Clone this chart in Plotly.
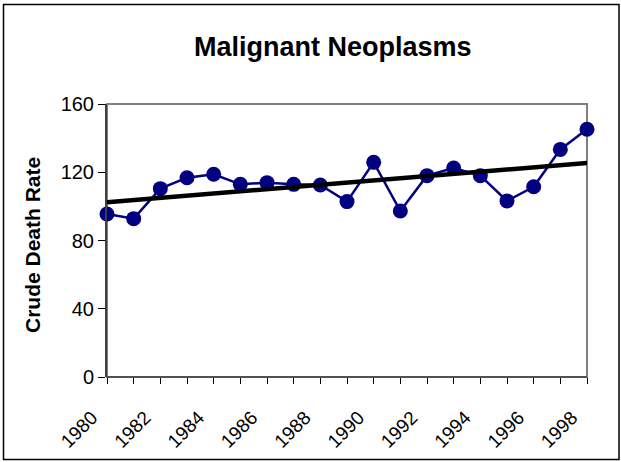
import numpy as np
import plotly.graph_objects as go

years = list(range(1980, 1999))
death_rate = [95.5, 92.8, 110.4, 116.8, 118.8, 112.9, 113.9, 112.9, 112.5, 102.8,
              125.8, 97.3, 118.0, 122.5, 118.0, 103.2, 111.5, 133.4, 145.2]
x_tick_labels = [str(y) if (y - 1980) % 2 == 0 else "" for y in years]
y_tick_vals = [0, 40, 80, 120, 160]

# linear trendline (least squares) from the data
coef = np.polyfit(years, death_rate, 1)
trend = np.polyval(coef, years)

FONT = "Arial, Liberation Sans, sans-serif"
W, H = 621, 462
L, R, T, B = 107, 587, 104, 377

fig = go.Figure()
fig.add_trace(go.Scatter(
    x=years, y=death_rate, mode="lines+markers",
    line=dict(color="#000080", width=2.5),
    marker=dict(color="#000080", size=15),
    cliponaxis=False, showlegend=False,
))
fig.add_trace(go.Scatter(
    x=years, y=trend, mode="lines",
    line=dict(color="black", width=4.5),
    cliponaxis=False, showlegend=False,
))

def px_x(p):
    return (p - L) / (R - L)

def px_y(p):
    return (B - p) / (B - T)

fig.update_layout(
    width=W, height=H,
    margin=dict(l=L, r=W - R, t=T, b=H - B, pad=0, autoexpand=False),
    paper_bgcolor="white", plot_bgcolor="white",
    font=dict(family=FONT, color="black", size=20),
    xaxis=dict(
        range=[1980, 1998], tickvals=years, ticktext=x_tick_labels,
        tickangle=-45, ticks="outside", ticklen=6, tickcolor="black", tickwidth=1,
        ticklabelstandoff=15, ticklabelshift=-15, automargin=False,
        showgrid=False, zeroline=False, showline=False,
        tickfont=dict(family=FONT, size=19, color="black"),
    ),
    yaxis=dict(
        range=[0, 160], tickvals=y_tick_vals, ticks="outside", ticklen=7,
        tickcolor="black", tickwidth=1, showgrid=False, zeroline=False,
        showline=True, linecolor="#404040", linewidth=2, automargin=False,
        tickfont=dict(family=FONT, size=20, color="black"),
    ),
    shapes=[
        dict(type="rect", xref="paper", yref="paper", x0=0, x1=1, y0=0, y1=1,
             line=dict(color="#808080", width=2), layer="below"),
        dict(type="line", xref="paper", yref="paper", x0=0, x1=1, y0=0, y1=0,
             line=dict(color="#404040", width=1.5)),
        dict(type="rect", xref="paper", yref="paper",
             x0=px_x(3.5), x1=px_x(619), y0=px_y(459.5), y1=px_y(4.5),
             line=dict(color="black", width=1.5)),
    ],
    annotations=[
        dict(text="<b>Malignant Neoplasms</b>", xref="paper", yref="paper",
             x=px_x(333), y=px_y(47), xanchor="center", yanchor="middle",
             showarrow=False, font=dict(family=FONT, size=27, color="black")),
        dict(text="<b>Crude Death Rate</b>", xref="paper", yref="paper",
             x=px_x(33), y=px_y(245), xanchor="center", yanchor="middle",
             textangle=-90, showarrow=False,
             font=dict(family=FONT, size=21, color="black")),
    ],
)

fig.write_html("out.html", config={"displayModeBar": False},
               post_script="document.body.style.margin='0';document.body.style.overflow='hidden';")
